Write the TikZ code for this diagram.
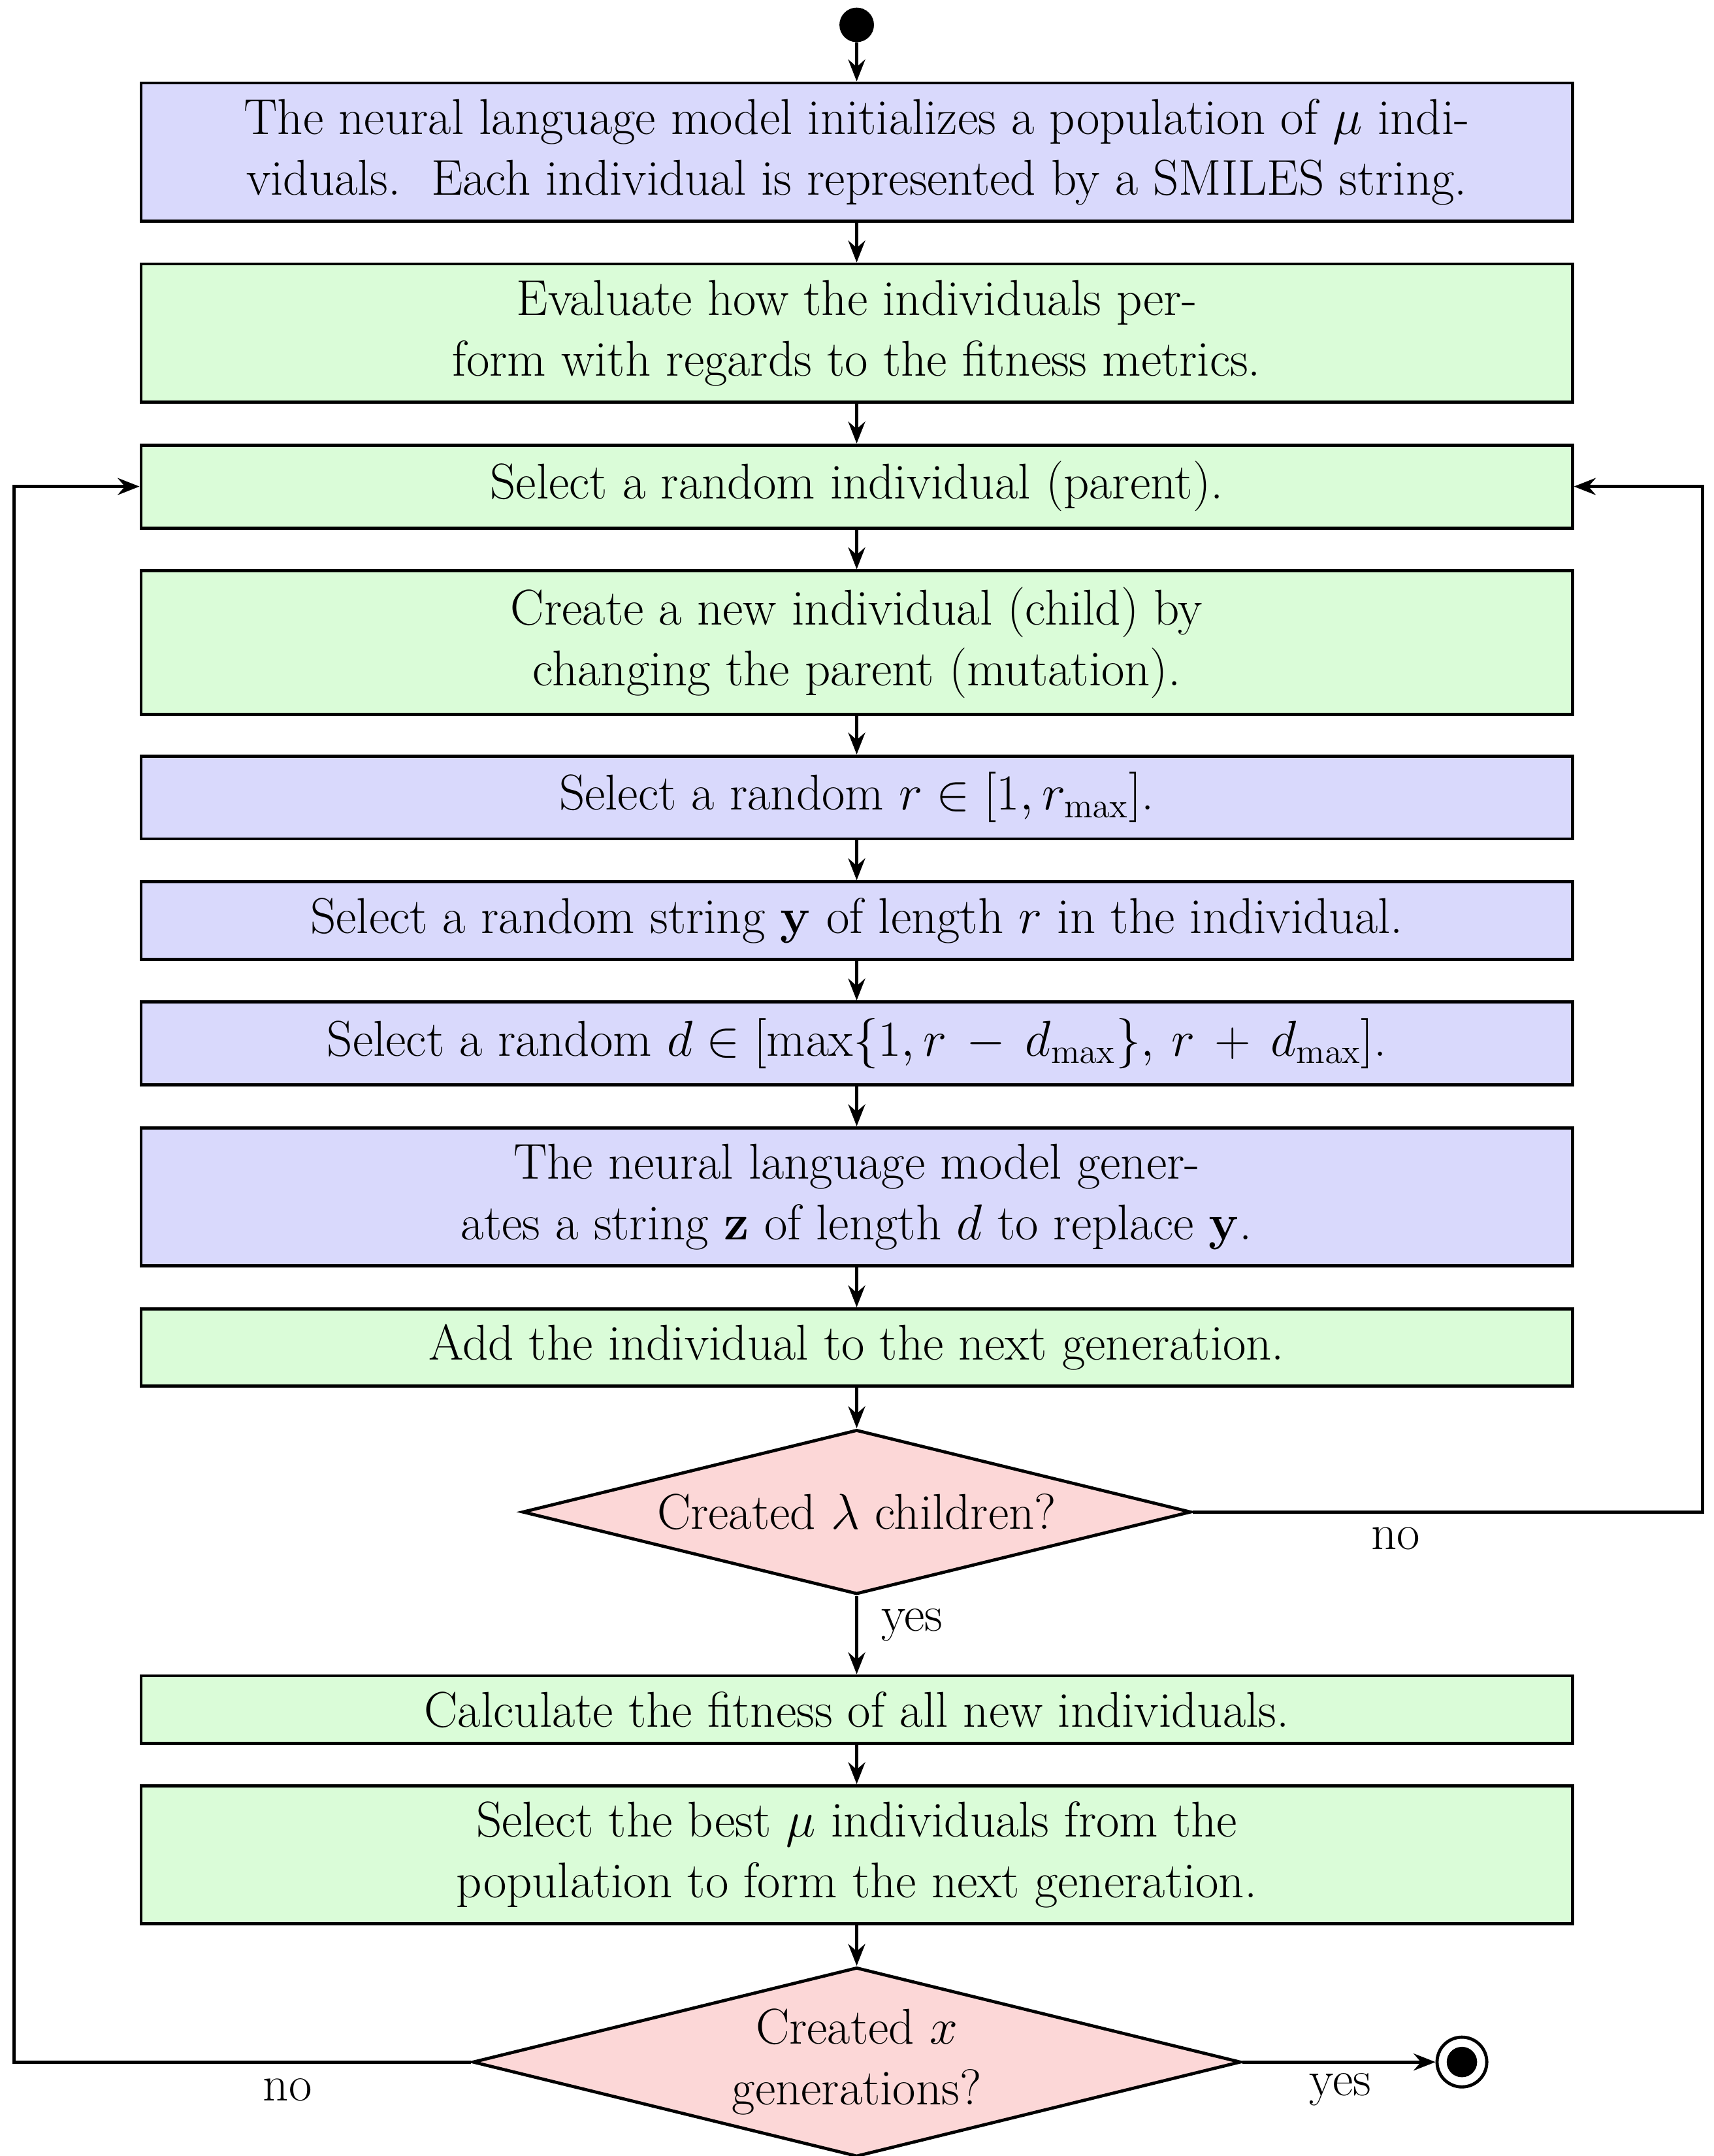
\documentclass[tikz,border=0pt]{standalone}
\usetikzlibrary{shapes.geometric,arrows.meta}
\definecolor{cb}{HTML}{D9D9FC}
\definecolor{cg}{HTML}{DAFCD8}
\definecolor{cr}{HTML}{FCD7D7}
\begin{document}
\begin{tikzpicture}[x=0.02cm,y=-0.02cm,
  font=\fontsize{20.7}{25}\selectfont,
  box/.style={draw,line width=1.3pt,minimum width=20.72cm,align=center,inner sep=0pt},
  dia/.style={draw,diamond,line width=1.3pt,fill=cr,inner sep=0pt},
  arr/.style={line width=1.3pt,-{Stealth[length=9pt,width=7pt,inset=3pt]}},
  lbl/.style={inner sep=0pt}]
\useasboundingbox (0,0) rectangle (1240,1560);
\node[circle,fill,minimum size=0.5cm,inner sep=0] (s) at (620,18) {};
\node[box,fill=cb,minimum height=2cm] (b1) at (620,110) {The neural language model initializes a population of $\mu$ indi-\\viduals.\ \ Each individual is represented by a SMILES string.};
\node[box,fill=cg,minimum height=2cm] (b2) at (620,241) {Evaluate how the individuals per-\\form with regards to the fitness metrics.};
\node[box,fill=cg,minimum height=1.2cm] (b3) at (620,352) {Select a random individual (parent).};
\node[box,fill=cg,minimum height=2.08cm] (b4) at (620,465) {Create a new individual (child) by\\changing the parent (mutation).};
\node[box,fill=cb,minimum height=1.2cm] (b5) at (620,577) {Select a random $r\in[1,r_{\max}]$.};
\node[box,fill=cb,minimum height=1.12cm] (b6) at (620,666) {Select a random string $\mathbf{y}$ of length $r$ in the individual.};
\node[box,fill=cb,minimum height=1.2cm] (b7) at (620,755) {Select a random $d\in[\max\{1,r\,-\,d_{\max}\},\,r\,+\,d_{\max}]$.};
\node[box,fill=cb,minimum height=2cm] (b8) at (620,866) {The neural language model gener-\\ates a string $\mathbf{z}$ of length $d$ to replace $\mathbf{y}$.};
\node[box,fill=cg,minimum height=1.12cm] (b9) at (620,975) {Add the individual to the next generation.};
\node[dia,minimum width=9.68cm,minimum height=2.38cm] (d1) at (620,1094) {};
\node[lbl] at (d1) {Created $\lambda$ children?};
\node[box,fill=cg,minimum height=0.98cm] (b10) at (620,1237) {Calculate the fitness of all new individuals.};
\node[box,fill=cg,minimum height=2cm] (b11) at (620,1342) {Select the best $\mu$ individuals from the\\population to form the next generation.};
\node[dia,minimum width=11.12cm,minimum height=2.74cm] (d2) at (620,1492) {};
\node[lbl,align=center] at (d2) {Created $x$\\generations?};
\node[circle,draw,line width=1.3pt,minimum size=0.72cm,inner sep=0] (e) at (1058,1492) {};
\node[circle,fill,minimum size=0.44cm,inner sep=0] at (e) {};
\coordinate (lx) at (10,0);
\coordinate (rx) at (1232,0);
\draw[arr] (s) -- (b1);
\draw[arr] (b1) -- (b2);
\draw[arr] (b2) -- (b3);
\draw[arr] (b3) -- (b4);
\draw[arr] (b4) -- (b5);
\draw[arr] (b5) -- (b6);
\draw[arr] (b6) -- (b7);
\draw[arr] (b7) -- (b8);
\draw[arr] (b8) -- (b9);
\draw[arr] (b9) -- (d1);
\draw[arr] (d1) -- (b10);
\draw[arr] (b10) -- (b11);
\draw[arr] (b11) -- (d2);
\draw[arr] (d2) -- (e);
\draw[arr] (d1.east) -- (d1.east -| rx) |- (b3.east);
\draw[arr] (d2.west) -- (d2.west -| lx) |- (b3.west);
\node[lbl] at (1010,1113) {no};
\node[lbl] at (660,1176) {yes};
\node[lbl] at (208,1512) {no};
\node[lbl] at (970,1512) {yes};
\end{tikzpicture}
\end{document}
